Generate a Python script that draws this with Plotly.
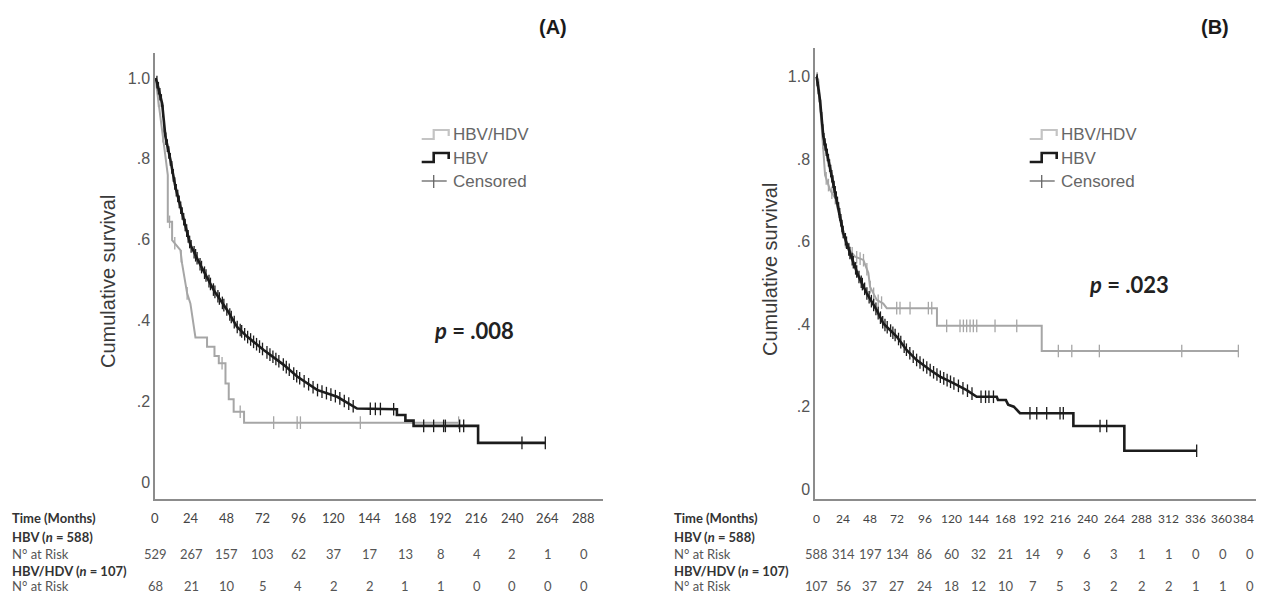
import numpy as np
import plotly.graph_objects as go

W, H = 1264, 593
OFF = 8  # page body margin of the browser

# ---------------- DATA ----------------
# Panel A: Kaplan-Meier curves (time in months, cumulative survival)
A_HBV_T = [0, 1, 4.5, 6.7, 10.1, 13.4, 17.9, 23.5, 30.3, 39.2, 48.2, 54.9, 61.6, 72.8,
           86.3, 95.3, 108.7, 122.2, 135.6, 162.4, 162.4, 168.1, 168.1, 173.6, 173.6,
           217.0, 217.0, 262.2]
A_HBV_S = [1.0, 0.99, 0.937, 0.855, 0.797, 0.731, 0.666, 0.587, 0.537, 0.475, 0.426, 0.384,
           0.360, 0.327, 0.290, 0.261, 0.228, 0.211, 0.182, 0.180, 0.166, 0.166, 0.152,
           0.152, 0.139, 0.139, 0.097, 0.097]
A_HBV_CENS = [1, 2, 3, 4, 5, 6, 7, 8, 9, 10, 11, 12, 13, 14, 15, 16, 17, 18, 19, 20, 21, 22,
              23, 24, 26, 27, 28, 30, 31, 33, 34, 36, 37, 39, 40, 42, 43, 45, 46, 48, 50, 51,
              53, 55, 57, 58, 60, 62, 64, 66, 68, 70, 72, 75, 77, 79, 81, 83, 86, 88, 90, 93,
              95, 97, 100, 103, 106, 109, 112, 115, 118, 121, 124, 127, 130, 133,
              144.5, 147.9, 151.3, 160.2, 180.4, 187.1, 193.8, 195.0, 204.6, 207.3, 246.5, 262.2]

A_HDV_T = [0, 1.1, 8.3, 8.3, 11.2, 11.2, 16.8, 17.9, 21.3, 23.5, 26.9, 34.7, 34.7, 39.7,
           39.7, 42.6, 42.6, 47.1, 47.1, 49.3, 49.3, 52.6, 52.6, 59.6, 59.6, 204.6]
A_HDV_S = [1.0, 0.97, 0.76, 0.644, 0.644, 0.599, 0.574, 0.541, 0.467, 0.442, 0.358, 0.358,
           0.335, 0.335, 0.312, 0.312, 0.294, 0.294, 0.244, 0.244, 0.205, 0.205, 0.174,
           0.174, 0.147, 0.147]
A_HDV_CENS = [2, 5, 9.5, 13, 17.3, 21.3, 44.8, 57, 79.5, 95.3, 97.5, 137.8, 203.9]

# Panel B
B_HBV_T = [0, 0.6, 3.5, 6.5, 10.9, 15.3, 19.7, 24.2, 30.1, 37.2, 44.9, 53.7, 59.5, 71.4,
           80.3, 89.1, 100.9, 109.7, 121.5, 133.3, 142.2, 159.9, 161.0, 168.0, 170.0, 175.0,
           180.5, 227.7, 227.7, 272.8, 272.8, 336.8]
B_HBV_S = [1.0, 1.0, 0.944, 0.855, 0.799, 0.742, 0.685, 0.621, 0.572, 0.519, 0.475, 0.434,
           0.402, 0.370, 0.337, 0.313, 0.289, 0.273, 0.257, 0.240, 0.224, 0.224, 0.216,
           0.216, 0.205, 0.200, 0.184, 0.184, 0.153, 0.153, 0.093, 0.093]
B_HBV_CENS = [1, 2, 3, 4, 5, 6, 7, 8, 9, 10, 11, 12, 13, 14, 15, 16, 17, 18, 19, 20, 21, 22,
              23, 24, 26, 27, 29, 30, 32, 33, 35, 36, 38, 40, 41, 43, 45, 47, 49, 51, 53, 55,
              57, 59, 61, 63, 66, 68, 70, 73, 75, 78, 80, 83, 86, 89, 92, 95, 98, 101, 104,
              107, 110, 113, 116, 119, 122, 126, 130, 134, 138, 146, 150, 153, 157,
              189.3, 195.3, 204.1, 215.9, 218.8, 251.3, 257.2, 336.8]

B_HDV_T = [0, 2, 5, 8, 12.4, 18.3, 21.2, 27.2, 34.5, 41.9, 46.3, 47.8, 53.7, 59.5, 62.6,
           107.0, 107.0, 199.7, 199.7, 373.7]
B_HDV_S = [1.0, 0.993, 0.879, 0.762, 0.726, 0.700, 0.653, 0.588, 0.564, 0.556, 0.524, 0.491,
           0.459, 0.450, 0.439, 0.439, 0.396, 0.396, 0.335, 0.335]
B_HDV_CENS = [1, 3, 6, 9, 11, 14, 17, 20, 23, 26, 29, 32, 36, 39, 42, 45, 48, 51, 55, 58,
              71.4, 74.3, 83.2, 99.4, 102.4, 115.6, 127.4, 130.4, 133.3, 136.3, 139.2, 142.2,
              158.4, 177.6, 214.4, 226.3, 250.7, 323.6, 373.7]

# Number-at-risk tables
A_TIMES = [0, 24, 48, 72, 96, 120, 144, 168, 192, 216, 240, 264, 288]
A_HBV_RISK = [529, 267, 157, 103, 62, 37, 17, 13, 8, 4, 2, 1, 0]
A_HDV_RISK = [68, 21, 10, 5, 4, 2, 2, 1, 1, 0, 0, 0, 0]
B_TIMES = [0, 24, 48, 72, 96, 120, 144, 168, 192, 216, 240, 264, 288, 312, 336, 360, 384]
B_HBV_RISK = [588, 314, 197, 134, 86, 60, 32, 21, 14, 9, 6, 3, 1, 1, 0, 0, 0]
B_HDV_RISK = [107, 56, 37, 27, 24, 18, 12, 10, 7, 5, 3, 2, 2, 2, 1, 1, 0]

Y_TICKS = [0, 0.2, 0.4, 0.6, 0.8, 1.0]
Y_TICKTEXT = ["0", ".2", ".4", ".6", ".8", "1.0"]
P_A = ".008"
P_B = ".023"

# ---------------- STYLE ----------------
BLACK = "#1c1c1c"
GRAY = "#a6a6a6"
AXIS = "#8c8c8c"
TXT = "#555555"


def px(x):
    return (x - OFF) / W


def py(y):
    return 1 - (y - OFF) / H


def cens_y(ct, t, s):
    return list(np.interp(ct, t, s))


fig = go.Figure()

panels = [
    ("x", "y", A_HBV_T, A_HBV_S, A_HBV_CENS, A_HDV_T, A_HDV_S, A_HDV_CENS),
    ("x2", "y2", B_HBV_T, B_HBV_S, B_HBV_CENS, B_HDV_T, B_HDV_S, B_HDV_CENS),
]
for xa, ya, ht, hs, hc, dt, ds, dc in panels:
    fig.add_trace(go.Scatter(x=dt, y=ds, mode="lines", line=dict(color=GRAY, width=2),
                             xaxis=xa, yaxis=ya, showlegend=False, hoverinfo="skip"))
    fig.add_trace(go.Scatter(x=dc, y=cens_y(dc, dt, ds), mode="markers",
                             marker=dict(symbol="line-ns", size=9,
                                         line=dict(color=GRAY, width=1.3)),
                             xaxis=xa, yaxis=ya, showlegend=False, hoverinfo="skip"))
    fig.add_trace(go.Scatter(x=ht, y=hs, mode="lines", line=dict(color=BLACK, width=2.6),
                             xaxis=xa, yaxis=ya, showlegend=False, hoverinfo="skip"))
    fig.add_trace(go.Scatter(x=hc, y=cens_y(hc, ht, hs), mode="markers",
                             marker=dict(symbol="line-ns", size=9,
                                         line=dict(color=BLACK, width=1.3)),
                             xaxis=xa, yaxis=ya, showlegend=False, hoverinfo="skip"))

axis_common = dict(showgrid=False, zeroline=False, showline=True, linecolor=AXIS,
                   linewidth=1.5, ticks="", mirror=False)
yfont = dict(family="Liberation Sans, Arial", size=16, color=TXT)

fig.update_layout(
    width=W, height=H, margin=dict(l=0, r=0, t=0, b=0),
    paper_bgcolor="white", plot_bgcolor="white",
    xaxis=dict(domain=[px(155), px(603)], range=[-0.3, 301], showticklabels=False,
               anchor="y", **axis_common),
    yaxis=dict(domain=[py(499), py(53)], range=[-0.042, 1.062], tickvals=Y_TICKS,
               ticktext=Y_TICKTEXT, tickfont=yfont, anchor="x", **axis_common),
    xaxis2=dict(domain=[px(815), px(1262)], range=[-0.9, 394.6], showticklabels=False,
                anchor="y2", **axis_common),
    yaxis2=dict(domain=[py(499), py(48)], range=[-0.024, 1.070], tickvals=Y_TICKS,
                ticktext=Y_TICKTEXT, tickfont=yfont, anchor="x2", **axis_common),
)

ann = []
shapes = []


def note(text, x, y, font, xanchor="center", xref="paper", **kw):
    ann.append(dict(text=text, x=x, y=y, xref=xref, yref="paper", xanchor=xanchor,
                    yanchor="middle", showarrow=False, font=font, **kw))


# Panel titles
for label, xc in (("(A)", 553), ("(B)", 1215)):
    note(f"<b>{label}</b>", px(xc), py(27),
         dict(family="Liberation Sans, Arial", size=20, color="#1a1a1a"))

# Y-axis titles
for xc, yc in ((108, 282), (770, 270)):
    note("Cumulative survival", px(xc), py(yc),
         dict(family="Liberation Sans, Arial", size=20, color="#3a3a3a"), textangle=-90)

# p-values
for pv, xc, yc in ((P_A, 474, 330), (P_B, 1129, 284)):
    note(f"<b><i>p</i> = {pv}</b>", px(xc), py(yc),
         dict(family="Lato", size=22, color="#222222"))

# Custom legends (SPSS-style step icons)
for dx in (0, 608):
    x0 = 421.7 + dx
    p1 = f"M {px(x0)},{py(139)} H {px(x0 + 12)} V {py(130)} H {px(x0 + 27)} V {py(136)}"
    shapes.append(dict(type="path", path=p1, xref="paper", yref="paper",
                       line=dict(color="#c4c4c4", width=2.2)))
    p2 = f"M {px(x0)},{py(162)} H {px(x0 + 12)} V {py(153)} H {px(x0 + 27)} V {py(159)}"
    shapes.append(dict(type="path", path=p2, xref="paper", yref="paper",
                       line=dict(color=BLACK, width=2.6)))
    shapes.append(dict(type="line", x0=px(x0), x1=px(x0 + 25), y0=py(181), y1=py(181),
                       xref="paper", yref="paper", line=dict(color="#666666", width=1.3)))
    shapes.append(dict(type="line", x0=px(x0 + 12), x1=px(x0 + 12), y0=py(175), y1=py(188),
                       xref="paper", yref="paper", line=dict(color="#666666", width=1.3)))
    for txt, yc in (("HBV/HDV", 134), ("HBV", 158), ("Censored", 181)):
        note(txt, px(x0 + 29), py(yc),
             dict(family="Liberation Sans, Arial", size=17, color="#666666"), xanchor="left")

# Number-at-risk tables
tfont_b = dict(family="Lato", size=13, color="#333333")
tfont = dict(family="Lato", size=13, color=TXT)
row_y = [518, 537, 554, 571, 586]
tables = [
    ("x", 10, A_TIMES, A_HBV_RISK, A_HDV_RISK, 13),
    ("x2", 672, B_TIMES, B_HBV_RISK, B_HDV_RISK, 12),
]
for xr, lx, times, r1, r2, tsize in tables:
    left_labels = [("<b>Time (Months)</b>", tfont_b), ("<b>HBV (<i>n</i> = 588)</b>", tfont_b),
                   ("N° at Risk", tfont), ("<b>HBV/HDV (<i>n</i> = 107)</b>", tfont_b),
                   ("N° at Risk", tfont)]
    for (txt, f), yy in zip(left_labels, row_y):
        note(txt, px(lx), py(yy), f, xanchor="left")
    last = times[-1]
    tf = dict(family="Lato", size=tsize, color="#444444")
    for t, a, b in zip(times, r1, r2):
        if xr == "x2" and t == last:
            # keep the last time label inside the visible page
            note(str(t), t + 5, py(row_y[0]), tf, xref=xr, xanchor="right")
        elif xr == "x2" and t == times[-2]:
            note(str(t), t - 1.5, py(row_y[0]), tf, xref=xr)
        else:
            note(str(t), t, py(row_y[0]), tf, xref=xr)
        note(str(a), t, py(row_y[2]), tfont, xref=xr)
        note(str(b), t, py(row_y[4]), tfont, xref=xr)

fig.update_layout(annotations=ann, shapes=shapes)
fig.write_html("out.html")
